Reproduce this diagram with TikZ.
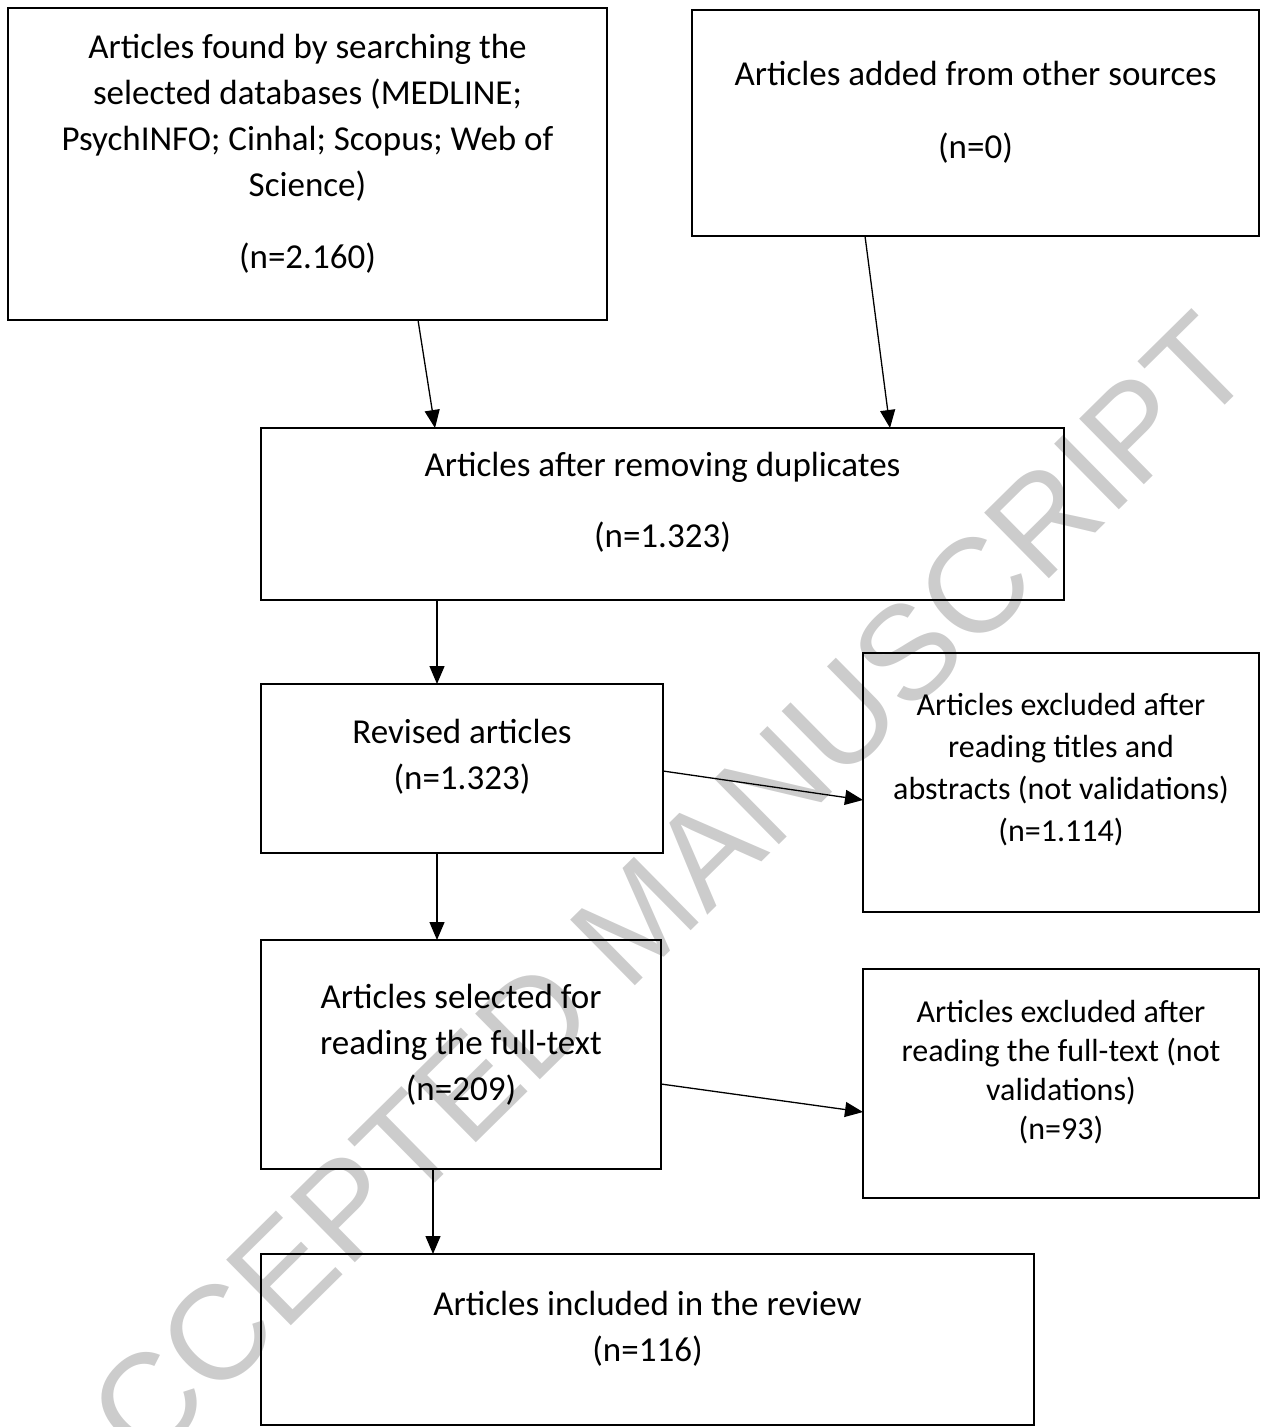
\documentclass[tikz,border=0pt]{standalone}
\usepackage{fontspec}
\setmainfont{Carlito}
\newfontfamily\wmfont{Liberation Sans}
\usetikzlibrary{arrows.meta}
\begin{document}
\begin{tikzpicture}[x=1pt,y=-1pt,
  box/.style={draw=black,line width=2.6pt,rectangle,inner sep=0pt,outer sep=0pt},
  arr/.style={draw=black,line width=1.3pt,-{Triangle[length=18pt,width=15pt]}},
  txt/.style={anchor=north,align=center,inner sep=0pt,font=\fontsize{35}{46}\selectfont},
  txtb/.style={anchor=north,align=center,inner sep=0pt,font=\fontsize{32}{42}\selectfont},
  txtc/.style={anchor=north,align=center,inner sep=0pt,font=\fontsize{32}{39}\selectfont},
  wm/.style={text=black!20,inner sep=0pt,font=\wmfont\fontsize{134}{134}\selectfont}]
\useasboundingbox (0,0) rectangle (1261,1427);
% watermark
\node[wm,rotate=44.6] (wm) at (638,919) {ACCEPTED MANUSCRIPT};
% boxes
\node[box,minimum width=599pt,minimum height=312pt] (A) at (307.5,164) {};
\node[box,minimum width=567pt,minimum height=226pt] (B) at (975.5,123) {};
\node[box,minimum width=803pt,minimum height=172pt] (C) at (662.5,514) {};
\node[box,minimum width=402pt,minimum height=169pt] (D) at (462,768.5) {};
\node[box,minimum width=396pt,minimum height=259pt] (E) at (1061,782.5) {};
\node[box,minimum width=400pt,minimum height=229pt] (F) at (461,1054.5) {};
\node[box,minimum width=396pt,minimum height=229pt] (G) at (1061,1083.5) {};
\node[box,minimum width=773pt,minimum height=171pt] (H) at (647.5,1339.5) {};
% texts
\node[txt] (tA) at (307.5,26) {\strut Articles found by searching the\\selected databases (MEDLINE;\\PsychINFO; Cinhal; Scopus; Web of\\Science)\\[26pt](n=2.160)};
\node[txt] (tB) at (975.5,53) {\strut Articles added from other sources\\[27pt](n=0)};
\node[txt] (tC) at (662.5,444) {\strut Articles after removing duplicates\\[25pt](n=1.323)};
\node[txt] (tD) at (462,711) {\strut Revised articles\\(n=1.323)};
\node[txtb] (tE) at (1061,686) {\strut Articles excluded after\\reading titles and\\abstracts (not validations)\\(n=1.114)};
\node[txt] (tF) at (461,976) {\strut Articles selected for\\reading the full-text\\(n=209)};
\node[txtc] (tG) at (1061,995) {\strut Articles excluded after\\reading the full-text (not\\validations)\\(n=93)};
\node[txt] (tH) at (647.5,1283) {\strut Articles included in the review\\(n=116)};
% arrows
\draw[arr] ([xshift=110.5pt]A.south) -- ([xshift=-227.5pt]C.north);
\draw[arr] ([xshift=-110.5pt]B.south) -- ([xshift=227.5pt]C.north);
\draw[arr] ([xshift=-225.5pt]C.south) -- ([xshift=-25pt]D.north);
\draw[arr] ([yshift=-2.5pt]D.east) -- ([yshift=-17.5pt]E.west);
\draw[arr] ([xshift=-25pt]D.south) -- ([xshift=-24pt]F.north);
\draw[arr] ([yshift=-29.5pt]F.east) -- ([yshift=-28.5pt]G.west);
\draw[arr] ([xshift=-28pt]F.south) -- ([xshift=-214.5pt]H.north);
\end{tikzpicture}
\end{document}
